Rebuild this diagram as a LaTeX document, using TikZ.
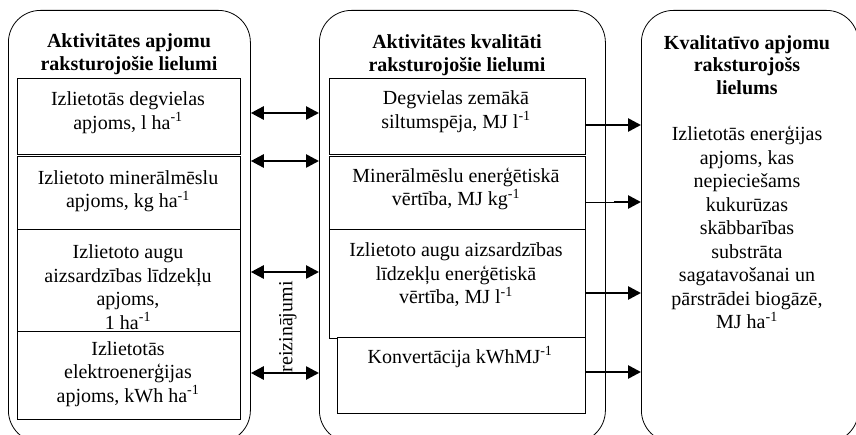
\documentclass[tikz,border=0pt]{standalone}
\usepackage{fontspec}
\setmainfont{Liberation Serif}
\usetikzlibrary{arrows.meta}
\begin{document}
\begin{tikzpicture}[x=1pt,y=-1pt,
  txt/.style={font=\fontsize{20}{23.5}\selectfont, align=center, inner sep=0pt},
  head/.style={font=\fontsize{20}{22.5}\selectfont\bfseries, align=center, inner sep=0pt},
  cont/.style={draw, line width=0.8pt, rounded corners=32pt, anchor=north west, inner sep=0pt},
  cell/.style={draw, line width=0.8pt, anchor=north west, inner sep=0pt},
  dbl/.style={line width=2.6pt, {Triangle[length=13pt,width=13pt]}-{Triangle[length=13pt,width=13pt]}},
  fwd/.style={line width=2.6pt, -{Triangle[length=13pt,width=13pt]}}]
\useasboundingbox (0,0) rectangle (856,435);
\clip (0,0) rectangle (856,435);

% three outer panels
\node[cont, minimum width=242pt, minimum height=432pt] (L) at (8,10) {};
\node[cont, minimum width=286pt, minimum height=432pt] (M) at (319,10) {};
\node[cont, minimum width=217pt, minimum height=432pt] (R) at (641,10) {};

% cells of the left panel
\node[cell, minimum width=223pt, minimum height=76pt] (L1) at (17,78) {};
\node[cell, minimum width=223pt, minimum height=73pt] (L2) at (17,156) {};
\node[cell, minimum width=223pt, minimum height=102pt] (L3) at (17,229) {};
\node[cell, minimum width=223pt, minimum height=88pt] (L4) at (17,331) {};

% cells of the middle panel
\node[cell, minimum width=256pt, minimum height=76pt] (M1) at (329,78) {};
\node[cell, minimum width=256pt, minimum height=73pt] (M2) at (329,156) {};
\node[cell, minimum width=256pt, minimum height=109pt] (M3) at (329,229) {};
\node[cell, fill=white, minimum width=248pt, minimum height=76pt] (M4) at (337,337) {};

% headings
\node[head] (hL) at (129,54) {Aktivitātes apjomu\\raksturojošie lielumi};
\node[head] (hM) at (457,55) {Aktivitātes kvalitāti\\raksturojošie lielumi};
\node[head] (hR) at (747,65) {Kvalitatīvo apjomu\\raksturojošs\\lielums};

% left cell texts
\node[txt] (tL1) at (128,112.5) {Izlietotās degvielas\\apjoms, l ha\textsuperscript{-1}};
\node[txt] (tL2) at (128,191) {Izlietoto minerālmēslu\\apjoms, kg ha\textsuperscript{-1}};
\node[txt] (tL3) at (128,287) {Izlietoto augu\\aizsardzības līdzekļu\\apjoms,\\1 ha\textsuperscript{-1}};
\node[txt] (tL4) at (128,374) {Izlietotās\\elektroenerģijas\\apjoms, kWh ha\textsuperscript{-1}};

% middle cell texts
\node[txt] (tM1) at (456,111.5) {Degvielas zemākā\\siltumspēja, MJ l\textsuperscript{-1}};
\node[txt] (tM2) at (456,189) {Minerālmēslu enerģētiskā\\vērtība, MJ kg\textsuperscript{-1}};
\node[txt] (tM3) at (456,275) {Izlietoto augu aizsardzības\\līdzekļu enerģētiskā\\vērtība, MJ l\textsuperscript{-1}};
\node[txt] (tM4) at (460,357) {Konvertācija kWhMJ\textsuperscript{-1}};

% result text
\node[txt] (tR) at (747,227.5) {Izlietotās enerģijas\\apjoms, kas\\nepieciešams\\kukurūzas\\skābbarības\\substrāta\\sagatavošanai un\\pārstrādei biogāzē,\\MJ ha\textsuperscript{-1}};

% levels of the connectors
\coordinate (a1) at (0,113);
\coordinate (a2) at (0,161);
\coordinate (a3) at (0,272);
\coordinate (a4) at (0,373);
\coordinate (b1) at (0,125);
\coordinate (b2) at (0,202);
\coordinate (b3) at (0,293);
\coordinate (b4) at (0,372);

% products between the two left panels
\draw[dbl] (L.east |- a1) -- (M.west |- a1);
\draw[dbl] (L.east |- a2) -- (M.west |- a2);
\draw[dbl] (L.east |- a3) -- (M.west |- a3);
\draw[dbl] (L.east |- a4) -- (M.west |- a4);
\node[txt, rotate=90] (mul) at (288,327) {reizinājumi};

% flows into the result panel
\draw[fwd] (M1.east |- b1) -- (R.west |- b1);
\draw[line width=0.9pt] (M2.east |- b2) -- ([xshift=28pt]M2.east |- b2) coordinate (b2s);
\draw[fwd] (b2s) -- (R.west |- b2);
\draw[fwd] (M3.east |- b3) -- (R.west |- b3);
\draw[fwd] (M4.east |- b4) -- (R.west |- b4);
\end{tikzpicture}
\end{document}
